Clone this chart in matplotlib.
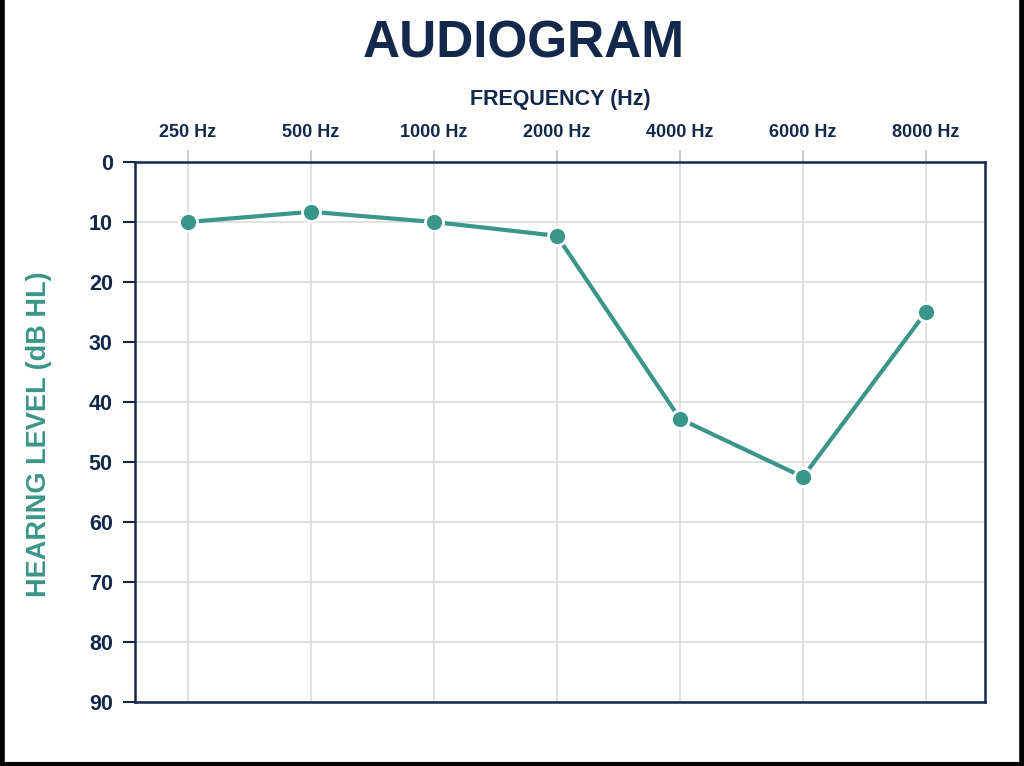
import matplotlib
matplotlib.use("Agg")
import matplotlib.pyplot as plt
from matplotlib.lines import Line2D

freq_labels = ["250 Hz", "500 Hz", "1000 Hz", "2000 Hz", "4000 Hz", "6000 Hz", "8000 Hz"]
hearing_db = [10, 8.3, 10, 12.3, 42.8, 52.5, 25]
y_ticks = [0, 10, 20, 30, 40, 50, 60, 70, 80, 90]

navy = "#13294b"
teal = "#3a9688"

plt.rcParams['font.family'] = ['Liberation Sans', 'DejaVu Sans']

fig = plt.figure(figsize=(10.24, 7.66), dpi=100)
fig.patch.set_facecolor("white")
ax = fig.add_axes([135/1024, 1-702/766, (985-135)/1024, (702-162)/766])

x = list(range(len(freq_labels)))
ax.plot(x, hearing_db, color=teal, lw=3, zorder=3)
ax.plot(x, hearing_db, 'o', ms=13, color=teal, mec="white", mew=2, zorder=4)

ax.set_xlim(-0.43, 6.48)
ax.set_ylim(90, 0)
ax.set_yticks(y_ticks)
ax.set_xticks(x)
ax.set_xticklabels(freq_labels)
ax.xaxis.tick_top()
ax.xaxis.set_label_position('top')
ax.grid(True, color="#dcdcdc", lw=1.2, zorder=0)
ax.set_axisbelow(True)

for s in ax.spines.values():
    s.set_color(navy)
    s.set_linewidth(1.8)

ax.tick_params(axis='y', length=9, width=1.5, color=navy, labelcolor=navy,
               labelsize=15.5, pad=7)
ax.tick_params(axis='x', length=8.6, width=1.2, color="#c4c4c4", labelcolor=navy,
               labelsize=13, pad=6.5)
for lbl in ax.get_yticklabels():
    lbl.set_fontweight('bold')
for lbl in ax.get_xticklabels():
    lbl.set_fontweight('bold')

ax.set_xlabel("FREQUENCY (Hz)", fontsize=15.5, fontweight='bold', color=navy, labelpad=14)
fig.text(39/1024, 1-434/766, "HEARING LEVEL (dB HL)", rotation=90, ha='center', va='center',
         fontsize=19.5, fontweight='bold', color=teal)
fig.text(524/1024, 1-58/766, "AUDIOGRAM", ha='center', va='baseline',
         fontsize=37, fontweight='bold', color=navy)

# outer frame
fig.add_artist(Line2D([0.002, 0.002], [0, 1], color="black", lw=4, transform=fig.transFigure))
fig.add_artist(Line2D([0.998, 0.998], [0, 1], color="black", lw=4, transform=fig.transFigure))
fig.add_artist(Line2D([0, 1], [0.003, 0.003], color="black", lw=3, transform=fig.transFigure))

fig.savefig("out.png", dpi=100)
